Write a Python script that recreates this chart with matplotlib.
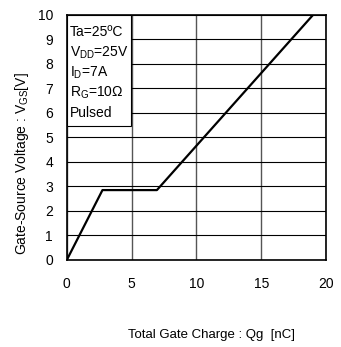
import matplotlib
matplotlib.use("Agg")
import matplotlib.pyplot as plt

# gate charge curve
qg_nc = [0.0, 2.75, 6.95, 19.0]
vgs_v = [0.0, 2.85, 2.85, 10.0]

x_ticks = [0, 5, 10, 15, 20]
y_ticks = list(range(0, 11))

conditions = [
    "Ta=25ºC",
    r"V$_\mathregular{DD}$=25V",
    r"I$_\mathregular{D}$=7A",
    r"R$_\mathregular{G}$=10Ω",
    "Pulsed",
]

plt.rcParams["font.family"] = ["Liberation Sans", "DejaVu Sans"]
plt.rcParams["mathtext.fontset"] = "custom"
plt.rcParams["mathtext.rm"] = "Liberation Sans"

fig = plt.figure(figsize=(3.41, 3.47), dpi=100)
ax = fig.add_axes([0.196, 0.251, 0.76, 0.706])

ax.plot(qg_nc, vgs_v, color="black", lw=1.6, zorder=3)

ax.set_xlim(0, 20)
ax.set_ylim(0, 10)
ax.set_xticks(x_ticks)
ax.set_yticks(y_ticks)
ax.tick_params(length=0, labelsize=10)
ax.tick_params(axis="x", pad=12)
ax.tick_params(axis="y", pad=10)
ax.grid(axis="y", color="black", lw=0.8)
ax.grid(axis="x", color="#555555", lw=1.0)
for s in ax.spines.values():
    s.set_linewidth(1.2)

fig.text(0.065, 0.53, r"Gate-Source Voltage : V$_\mathregular{GS}$[V]",
         rotation=90, ha="center", va="center", fontsize=10)
fig.text(0.619, 0.035, "Total Gate Charge : Qg  [nC]",
         ha="center", va="center", fontsize=9.5)

# conditions box, top-left of plot
ax.add_patch(plt.Rectangle((0, 5.45), 4.95, 4.55, facecolor="white",
                           edgecolor="black", lw=0.8, zorder=4))
for i, line in enumerate(conditions):
    ax.text(0.25, 9.3 - i * 0.83, line, fontsize=10, va="center", ha="left", zorder=5)

fig.savefig("out.png", dpi=100)
